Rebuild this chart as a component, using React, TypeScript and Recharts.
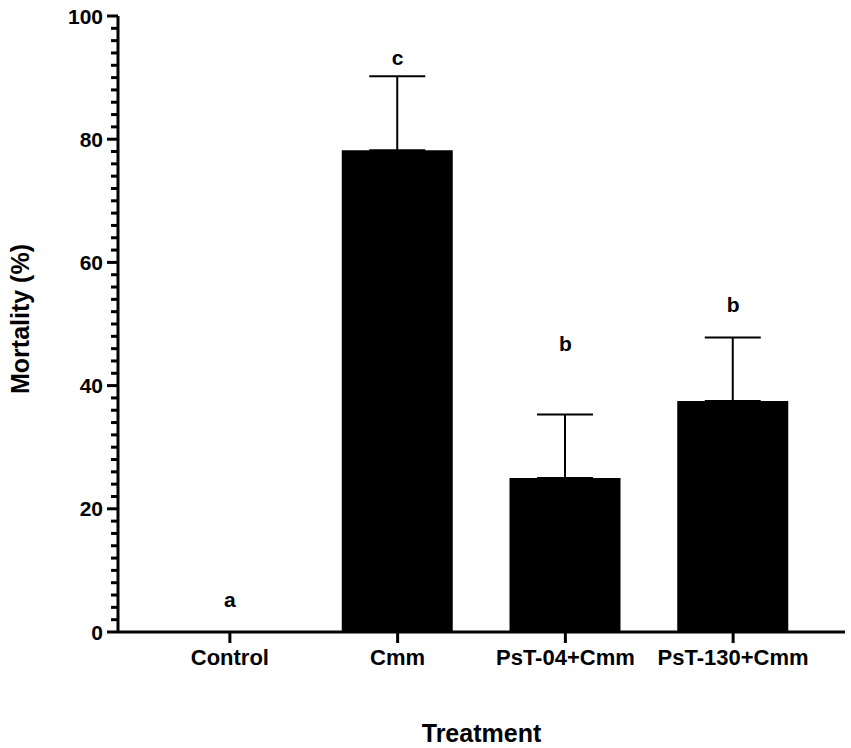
import React from "react";
import {
  ComposedChart,
  Bar,
  Line,
  XAxis,
  YAxis,
  ErrorBar,
  LabelList,
  Label,
} from "recharts";

const treatments = ["Control", "Cmm", "PsT-04+Cmm", "PsT-130+Cmm"];
const mortality = [0, 78.2, 25.0, 37.5];
const errorUp = [0, 12.0, 10.3, 10.3];
const letters = ["a", "c", "b", "b"];
const letterHeights = [5.2, 93.2, 46.9, 53.1];
const yTicks = Array.from({ length: 51 }, (_, i) => i * 2);

const FONT = '"Liberation Sans", Arial, sans-serif';

const chartData = treatments.map((name, i) => ({
  name,
  mortality: mortality[i],
  err: [0, errorUp[i]],
  letter: letters[i],
  letterY: letterHeights[i],
}));

const YTick = (props: any) => {
  const { x, y, payload } = props;
  const major = payload.value % 20 === 0;
  return (
    <g>
      <line x1={x} x2={x - (major ? 11 : 7)} y1={y} y2={y} stroke="#000" strokeWidth={3} />
      {major && (
        <text
          x={x - 15}
          y={y}
          textAnchor="end"
          dominantBaseline="central"
          fontFamily={FONT}
          fontWeight={700}
          fontSize={21}
          fill="#000"
        >
          {payload.value}
        </text>
      )}
    </g>
  );
};

export default function App() {
  return (
    <div style={{ position: "absolute", left: 0, top: 0, background: "#fff" }}>
      <ComposedChart
        width={851}
        height={748}
        data={chartData}
        margin={{ top: 16, right: 6, bottom: 0, left: 0 }}
      >
        <XAxis
          dataKey="name"
          height={116}
          padding={{ left: 28, right: 28 }}
          axisLine={{ stroke: "#000", strokeWidth: 3 }}
          tickLine={{ stroke: "#000", strokeWidth: 3 }}
          tickSize={11}
          tickMargin={6}
          tick={{ fill: "#000", fontSize: 22, fontWeight: 700, fontFamily: FONT }}
        >
          <Label
            content={(p: any) => {
              const vb = p.viewBox;
              return (
                <text
                  x={vb.x + vb.width / 2}
                  y={vb.y + 110}
                  textAnchor="middle"
                  fontFamily={FONT}
                  fontWeight={700}
                  fontSize={25}
                  fill="#000"
                >
                  Treatment
                </text>
              );
            }}
          />
        </XAxis>
        <YAxis
          width={118}
          domain={[0, 100]}
          ticks={yTicks}
          interval={0}
          tickSize={0}
          tickMargin={0}
          tickLine={false}
          axisLine={{ stroke: "#000", strokeWidth: 3 }}
          tick={<YTick />}
        >
          <Label
            content={(p: any) => {
              const vb = p.viewBox;
              const cy = vb.y + vb.height / 2 - 5;
              return (
                <text
                  x={20}
                  y={cy}
                  transform={`rotate(-90, 20, ${cy})`}
                  textAnchor="middle"
                  dominantBaseline="central"
                  fontFamily={FONT}
                  fontWeight={700}
                  fontSize={25}
                  fill="#000"
                >
                  Mortality (%)
                </text>
              );
            }}
          />
        </YAxis>
        <Bar dataKey="mortality" fill="#000" barSize={111} isAnimationActive={false}>
          <ErrorBar dataKey="err" width={28} stroke="#000" strokeWidth={2} direction="y" />
        </Bar>
        <Line
          dataKey="letterY"
          stroke="none"
          dot={false}
          activeDot={false}
          isAnimationActive={false}
        >
          <LabelList
            dataKey="letter"
            content={(p: any) => (
              <text
                x={p.x}
                y={p.y}
                textAnchor="middle"
                dominantBaseline="central"
                fontFamily={FONT}
                fontWeight={700}
                fontSize={21}
                fill="#000"
              >
                {p.value}
              </text>
            )}
          />
        </Line>
      </ComposedChart>
    </div>
  );
}
